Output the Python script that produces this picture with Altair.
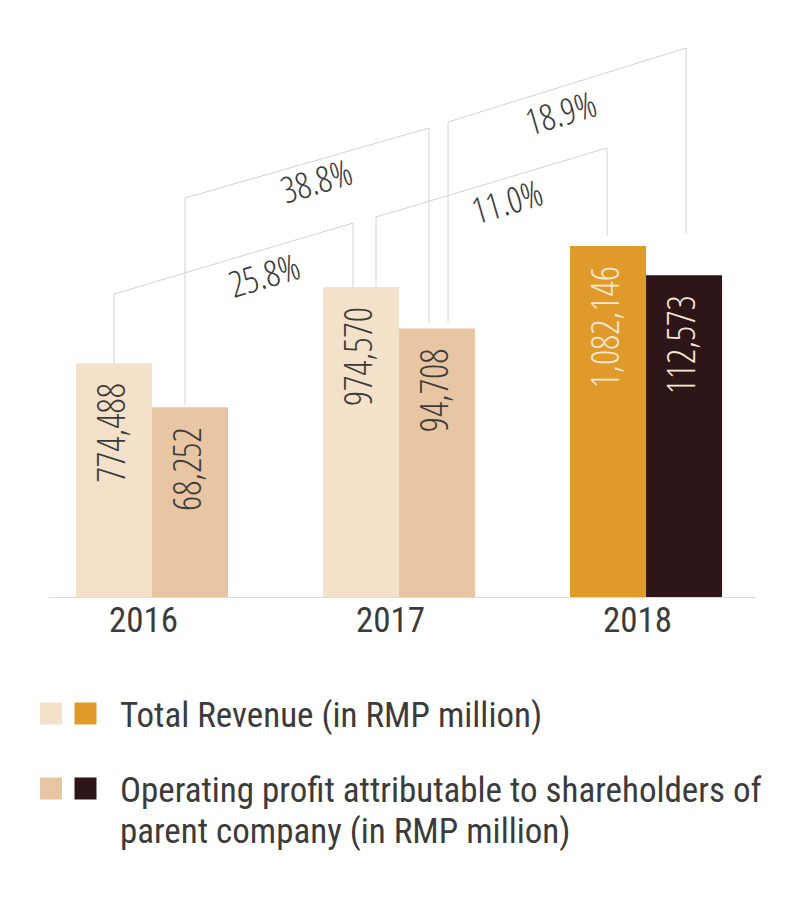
import altair as alt
import pandas as pd

# ---------------- data ----------------
years = [2016, 2017, 2018]
revenue = [774488, 974570, 1082146]
profit = [68252, 94708, 112573]
highlight_year = 2018
legend_labels = [
    "Total Revenue (in RMP million)",
    "Operating profit attributable to shareholders of\nparent company (in RMP million)",
]
# growth connectors: series, from year index, to year index
conn_series = ["rev", "pro", "rev", "pro"]
conn_from = [0, 0, 1, 1]
conn_to = [1, 1, 2, 2]

# ---------------- style ----------------
C_REV, C_REV_HI = "#F4E1CA", "#E09A2A"
C_PRO, C_PRO_HI = "#E9C6A3", "#2E1517"
TEXT, TEXT_HI, LINE = "#3b3b3b", "#F6E8D6", "#d2d2d2"
FONT_LIGHT = "'Open Sans Condensed Light', 'Roboto Condensed', sans-serif"
FONT_REG = "'Roboto Condensed', sans-serif"

W, H = 707, 567
PX_PER_YEAR = 247.0
BW = 76 / PX_PER_YEAR
X_DOMAIN = [2015.579, 2018.441]
DOMAINS = {"rev": [160000, 1650000], "pro": [4500, 195000]}
VALUES = {"rev": revenue, "pro": profit}
SIDE = {"rev": -1, "pro": 1}
YEAR_LABEL_SHIFT = -9 / PX_PER_YEAR

# connector styling (pixels)
left_dx_px = [0, -5, 15, 11]
right_dx_px = [-8, -8, -1, 2]
left_level_px = [303, 399, 380, 475]
right_level_px = [374, 469, 449, 549]
left_gap_px = [0, 3, 0, 6]
right_gap_px = [0, 6, 10, 42]
label_frac = [0.60, 0.516, 0.54, 0.445]
label_dy = [27, 22, 25, 27]

# ---------------- tables ----------------
bar_rows = []
for s in ["rev", "pro"]:
    for y, v in zip(years, VALUES[s]):
        hi = y == highlight_year
        c = y + SIDE[s] * BW / 2
        bar_rows.append(dict(
            series=s, year=y, value=v,
            x0=c - BW / 2, x1=c + BW / 2, xc=c,
            key=s + ("_hi" if hi else ""),
            tcol=TEXT_HI if hi else TEXT,
            label=f"{v:,}",
        ))
bars_df = pd.DataFrame(bar_rows)

conn_rows, pct_rows = [], []
for k, (s, a, b) in enumerate(zip(conn_series, conn_from, conn_to)):
    d0, d1 = DOMAINS[s]
    upp = (d1 - d0) / H
    va, vb = VALUES[s][a], VALUES[s][b]
    xa = years[a] + SIDE[s] * BW / 2 + left_dx_px[k] / PX_PER_YEAR
    xb = years[b] + SIDE[s] * BW / 2 + right_dx_px[k] / PX_PER_YEAR
    la = d0 + left_level_px[k] * upp
    lb = d0 + right_level_px[k] * upp
    pts = [(xa, va + left_gap_px[k] * upp), (xa, la), (xb, lb), (xb, vb + right_gap_px[k] * upp)]
    for o, (px, py) in enumerate(pts):
        conn_rows.append(dict(series=s, cid=k, ord=o, cx=px, cy=py))
    f = label_frac[k]
    # label sits below the diagonal: shift perpendicular by label_dy pixels
    pct_rows.append(dict(series=s,
                         px=xa + f * (xb - xa) + 0.284 * label_dy[k] / PX_PER_YEAR,
                         py=la + f * (lb - la) - 0.959 * label_dy[k] * upp,
                         pct=f"{(vb / va - 1) * 100:.1f}%"))
conn_df = pd.DataFrame(conn_rows)
pct_df = pd.DataFrame(pct_rows)

# ---------------- scales ----------------
xscale = alt.Scale(domain=X_DOMAIN, nice=False, zero=False)
xaxis = alt.Axis(values=[y + YEAR_LABEL_SHIFT for y in years],
                 labelExpr="format(round(datum.value), 'd')",
                 ticks=False, grid=False, title=None,
                 domainColor="#dcdcdc", labelFontSize=35, labelColor=TEXT,
                 labelFont=FONT_REG, labelPadding=6)
cscale = alt.Scale(domain=["rev", "rev_hi", "pro", "pro_hi"],
                   range=[C_REV, C_REV_HI, C_PRO, C_PRO_HI])


def series_layer(s):
    ysc = alt.Scale(domain=DOMAINS[s], nice=False, zero=False)
    bdf = bars_df[bars_df.series == s]
    bars = alt.Chart(bdf).mark_bar().encode(
        x=alt.X("x0:Q", scale=xscale, axis=xaxis, title=None),
        x2="x1:Q",
        y=alt.Y("value:Q", scale=ysc, axis=None),
        y2=alt.datum(DOMAINS[s][0]),
        color=alt.Color("key:N", scale=cscale, legend=None),
    )
    labels = alt.Chart(bdf).mark_text(
        angle=270, align="right", baseline="middle", dx=-20, fontSize=38, font=FONT_LIGHT
    ).encode(
        x=alt.X("xc:Q", scale=xscale, axis=xaxis, title=None),
        y=alt.Y("value:Q", scale=ysc, axis=None),
        text="label:N",
        color=alt.Color("tcol:N", scale=None),
    )
    conns = alt.Chart(conn_df[conn_df.series == s]).mark_line(
        strokeWidth=1, color=LINE
    ).encode(
        x=alt.X("cx:Q", scale=xscale, axis=xaxis, title=None),
        y=alt.Y("cy:Q", scale=ysc, axis=None),
        detail="cid:N",
        order="ord:Q",
    )
    pcts = alt.Chart(pct_df[pct_df.series == s]).mark_text(
        angle=343.5, align="center", baseline="middle", fontSize=36,
        font=FONT_LIGHT, color=TEXT
    ).encode(
        x=alt.X("px:Q", scale=xscale, axis=xaxis, title=None),
        y=alt.Y("py:Q", scale=ysc, axis=None),
        text="pct:N",
    )
    return alt.layer(conns, bars, labels, pcts)


top = alt.layer(series_layer("rev"), series_layer("pro")).resolve_scale(
    y="independent"
).properties(width=W, height=H)

# ---------------- legend ----------------
leg_sq = pd.DataFrame([
    dict(row=0, slot="light", key="rev"), dict(row=0, slot="dark", key="rev_hi"),
    dict(row=1, slot="light", key="pro"), dict(row=1, slot="dark", key="pro_hi"),
])
leg_tx = pd.DataFrame([dict(row=i, slot="text", text=t) for i, t in enumerate(legend_labels)])
lxs = alt.Scale(type="point", domain=["light", "dark", "text"], range=[3, 72], padding=0)
lys = alt.Scale(type="point", domain=[0, 1], range=[116.5, 191.5], padding=0)

legend = alt.layer(
    alt.Chart(leg_sq).mark_square(size=484, opacity=1).encode(
        x=alt.X("slot:N", scale=lxs, axis=None),
        y=alt.Y("row:O", scale=lys, axis=None),
        color=alt.Color("key:N", scale=cscale, legend=None),
    ),
    alt.Chart(leg_tx).mark_text(
        align="left", baseline="alphabetic", dy=13, fontSize=35, font=FONT_REG,
        color=TEXT, lineBreak="\n", lineHeight=41
    ).encode(
        x=alt.X("slot:N", scale=lxs, axis=None),
        y=alt.Y("row:O", scale=lys, axis=None),
        text="text:N",
    ),
).properties(width=W, height=260)

# legend squares reach 8px left of the views, so the left padding is 8px smaller
chart = alt.vconcat(top, legend, spacing=0, bounds="flush").properties(
    padding={"left": 40, "top": 30, "right": 0, "bottom": 0},
    background="white",
).configure_view(stroke=None)

chart.save("out.html", embed_options={"renderer": "svg", "actions": False})
